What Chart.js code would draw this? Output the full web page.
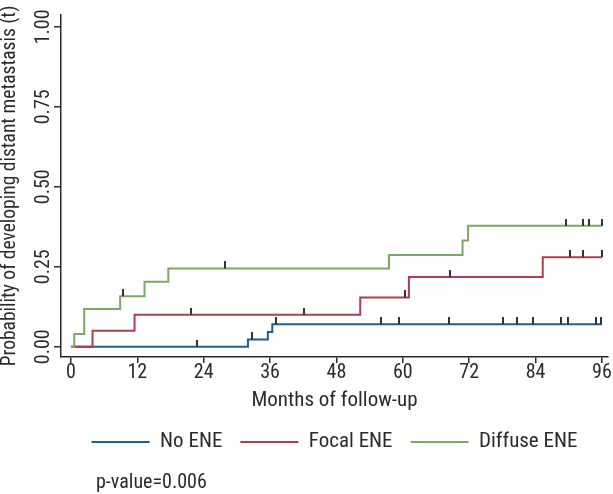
<!DOCTYPE html>
<html>
<head>
<meta charset="utf-8">
<script src="https://cdn.jsdelivr.net/npm/chart.js@4"></script>
<style>
  html, body { margin: 0; padding: 0; background: #fff; }
  #wrap { width: 613px; height: 494px; }
</style>
</head>
<body>
<div id="wrap"><canvas id="km" width="613" height="494"></canvas></div>
<script>
// Kaplan-Meier style cumulative incidence, distant metastasis by ENE group

const monthTicks = [0, 12, 24, 36, 48, 60, 72, 84, 96];
const probTicks = [0, 0.25, 0.5, 0.75, 1];

const groupLabels = ['No ENE', 'Focal ENE', 'Diffuse ENE'];
const groupColors = ['#1f5f8f', '#a8404f', '#7ba862'];

// step times (months) and cumulative probability after each step
const noEneTimes = [0, 32.0, 35.6, 36.4, 96];
const noEneProbs = [0, 0.023, 0.046, 0.070, 0.070];
const noEneCensored = [22.7, 32.7, 37.1, 56.1, 59.3, 68.3, 78.2, 80.6, 83.6, 88.6, 89.9, 95.0, 95.9];

const focalTimes = [0, 3.9, 11.5, 52.3, 61.1, 85.3, 96];
const focalProbs = [0, 0.050, 0.100, 0.154, 0.218, 0.280, 0.280];
const focalCensored = [21.7, 42.2, 60.4, 68.5, 90.3, 92.6, 96.0];

const diffuseTimes = [0, 0.6, 2.4, 8.9, 13.3, 17.6, 57.5, 70.8, 71.8, 96];
const diffuseProbs = [0, 0.040, 0.118, 0.158, 0.203, 0.245, 0.287, 0.332, 0.378, 0.378];
const diffuseCensored = [9.4, 27.8, 89.5, 92.5, 93.6, 96.0];

const pValueText = 'p-value=0.006';

const FONT = "'Liberation Sans Narrow', 'Roboto Condensed', 'DejaVu Sans Condensed', 'Liberation Sans', sans-serif";
const INK = '#2b2b2b';

function steps(times, probs) {
    return times.map((t, i) => ({ x: t, y: probs[i] }));
}

function levelAt(times, probs, t) {
    let v = probs[0];
    for (let i = 0; i < times.length; i++) if (times[i] <= t) v = probs[i];
    return v;
}

function censorPoints(times, probs, cens) {
    return cens.map(t => ({ x: t, y: levelAt(times, probs, t) }));
}

// small vertical tick that sits on top of the curve
const tickMark = document.createElement('canvas');
tickMark.width = 2;
tickMark.height = 14;
const tctx = tickMark.getContext('2d');
tctx.fillStyle = '#333';
tctx.fillRect(0, 0, 2, 7);

const curve = (i, times, probs) => ({
    type: 'line',
    label: groupLabels[i],
    data: steps(times, probs),
    borderColor: groupColors[i],
    backgroundColor: groupColors[i],
    borderWidth: 2,
    stepped: true,
    pointRadius: 0,
    fill: false,
    order: 3 - i,
});

const censors = (times, probs, cens) => ({
    type: 'line',
    label: 'censored',
    data: censorPoints(times, probs, cens),
    showLine: false,
    pointStyle: tickMark,
    pointRadius: 4,
    order: 0,
});

const pValuePlugin = {
    id: 'pValue',
    afterDraw(chart) {
        const ctx = chart.ctx;
        ctx.save();
        ctx.font = `20px ${FONT}`;
        ctx.fillStyle = INK;
        ctx.textBaseline = 'middle';
        ctx.textAlign = 'left';
        ctx.fillText(pValueText, 96, 483);
        ctx.restore();
    }
};

const baseLabels = Chart.defaults.plugins.legend.labels.generateLabels;

new Chart(document.getElementById('km'), {
    type: 'line',
    data: {
        datasets: [
            curve(0, noEneTimes, noEneProbs),
            curve(1, focalTimes, focalProbs),
            curve(2, diffuseTimes, diffuseProbs),
            censors(noEneTimes, noEneProbs, noEneCensored),
            censors(focalTimes, focalProbs, focalCensored),
            censors(diffuseTimes, diffuseProbs, diffuseCensored),
        ],
    },
    options: {
        responsive: false,
        devicePixelRatio: 1,
        animation: false,
        layout: { padding: { top: 15, right: 5, bottom: 31.5, left: 0 } },
        plugins: {
            tooltip: { enabled: false },
            legend: {
                position: 'bottom',
                fullSize: false,
                labels: {
                    color: INK,
                    font: { family: FONT, size: 21 },
                    boxWidth: 58,
                    boxHeight: 2,
                    padding: 18,
                    filter: item => item.datasetIndex < 3,
                    sort: (a, b) => a.datasetIndex - b.datasetIndex,
                    generateLabels: chart => baseLabels(chart).map(l => ({ ...l, fillStyle: l.strokeStyle, lineWidth: 0 })),
                },
            },
        },
        scales: {
            x: {
                type: 'linear',
                min: -1.8,
                max: 97.1,
                afterBuildTicks: s => { s.ticks = monthTicks.map(v => ({ value: v })); },
                afterFit: s => { s.height = 56.5; s.paddingLeft = 0; s.paddingRight = 0; },
                grid: { display: true, drawOnChartArea: false, drawTicks: true, tickLength: 6, color: INK, lineWidth: 1.5 },
                border: { display: true, color: INK, width: 1.5 },
                ticks: { color: INK, font: { family: FONT, size: 20, lineHeight: 1 }, padding: 0, maxRotation: 0, autoSkip: false },
                title: { display: true, text: 'Months of follow-up', color: INK, font: { family: FONT, size: 21, lineHeight: 1 }, padding: { top: 0, bottom: 2 } },
            },
            y: {
                type: 'linear',
                min: -0.032,
                max: 1.037,
                afterBuildTicks: s => { s.ticks = probTicks.map(v => ({ value: v })); },
                afterFit: s => { s.width = 61; s.paddingTop = 0; s.paddingBottom = 0; },
                grid: { display: true, drawOnChartArea: false, drawTicks: true, tickLength: 7, color: INK, lineWidth: 1.5 },
                border: { display: true, color: INK, width: 1.5 },
                ticks: { color: INK, font: { family: FONT, size: 20 }, minRotation: 90, maxRotation: 90, crossAlign: 'center', padding: -7, callback: v => v.toFixed(2) },
                title: { display: true, text: 'Probability of developing distant metastasis (t)', color: INK, font: { family: FONT, size: 19.5, lineHeight: 1 }, padding: { top: 0, bottom: 0 } },
            },
        },
    },
    plugins: [pValuePlugin],
});
</script>
</body>
</html>
